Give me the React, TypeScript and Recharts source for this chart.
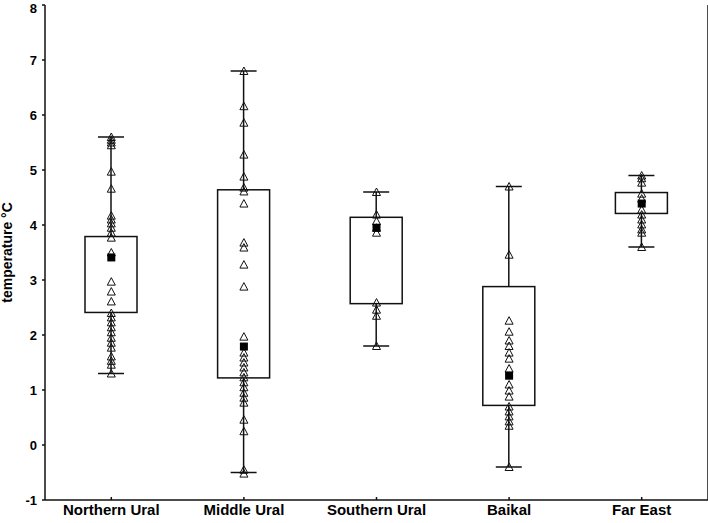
import { Bar, ComposedChart, Scatter, XAxis, YAxis } from "recharts";

const categories = ["Northern Ural", "Middle Ural", "Southern Ural", "Baikal", "Far East"];
const whiskerLow = [1.3, -0.5, 1.8, -0.4, 3.6];
const whiskerHigh = [5.6, 6.8, 4.6, 4.7, 4.9];
const boxLow = [2.41, 1.22, 2.57, 0.72, 4.21];
const boxHigh = [3.79, 4.64, 4.14, 2.88, 4.59];
const centers = [3.41, 1.79, 3.95, 1.26, 4.39];

const northernUral = [5.6, 5.55, 5.5, 5.45, 4.97, 4.66, 4.17, 4.1, 4.03, 3.95, 3.86, 3.77, 3.5, 2.97, 2.79, 2.61, 2.4, 2.32, 2.23, 2.14, 2.05, 1.95, 1.86, 1.77, 1.61, 1.53, 1.46, 1.3];
const middleUral = [6.8, 6.16, 5.86, 5.28, 4.88, 4.68, 4.61, 4.39, 3.68, 3.59, 3.28, 2.88, 1.97, 1.68, 1.59, 1.5, 1.41, 1.32, 1.23, 1.14, 1.05, 0.95, 0.86, 0.77, 0.46, 0.25, -0.45, -0.52];
const southernUral = [4.6, 4.19, 4.07, 3.95, 3.86, 2.59, 2.46, 2.35, 1.8];
const baikal = [4.7, 3.46, 2.26, 2.06, 1.9, 1.8, 1.68, 1.57, 1.39, 1.1, 0.99, 0.88, 0.7, 0.61, 0.52, 0.43, 0.35, -0.4];
const farEast = [4.9, 4.85, 4.77, 4.57, 4.48, 4.28, 4.19, 4.1, 4.01, 3.92, 3.86, 3.6];
const pointsByGroup = [northernUral, middleUral, southernUral, baikal, farEast];

const yTicks = [-1, 0, 1, 2, 3, 4, 5, 6, 7, 8];

const rows = categories.map((name, i) => ({
  name,
  whisker: [whiskerLow[i], whiskerHigh[i]],
  box: [boxLow[i], boxHigh[i]],
}));
const points = categories.flatMap((name, i) => pointsByGroup[i].map((v) => ({ name, v })));
const centerPoints = categories.map((name, i) => ({ name, v: centers[i] }));

const INK = "#111";
const font = { fontFamily: "'Liberation Sans', Arial, sans-serif", fontWeight: 700, fill: "#000" };

// whisker: vertical line from min to max with short caps
const Whisker = (p: any) => {
  const cx = p.x + p.width / 2;
  const top = p.y;
  const bottom = p.y + p.height;
  return (
    <g stroke={INK} strokeWidth={1.5}>
      <line x1={cx} x2={cx} y1={top} y2={bottom} />
      <line x1={cx - 13} x2={cx + 13} y1={top} y2={top} />
      <line x1={cx - 13} x2={cx + 13} y1={bottom} y2={bottom} />
    </g>
  );
};

const Box = (p: any) => (
  <rect x={p.x} y={p.y} width={p.width} height={p.height} fill="#fff" stroke={INK} strokeWidth={1.5} />
);

const Triangle = (p: any) => (
  <polygon
    points={`${p.cx},${p.cy - 4} ${p.cx - 4},${p.cy + 3.5} ${p.cx + 4},${p.cy + 3.5}`}
    fill="none"
    stroke={INK}
    strokeWidth={1}
  />
);

const Square = (p: any) => <rect x={p.cx - 4} y={p.cy - 4} width={8} height={8} fill="#000" />;

export default function App() {
  return (
    <div style={{ position: "absolute", left: 0, top: 0, background: "#fff" }}>
      <ComposedChart width={708} height={523} data={rows} margin={{ top: 5, right: 0, bottom: 0, left: 0 }}>
        <XAxis
          dataKey="name"
          type="category"
          allowDuplicatedCategory={false}
          height={23}
          stroke={INK}
          strokeWidth={1.5}
          tickSize={-3}
          tickMargin={7}
          tick={{ ...font, fontSize: 15 }}
        />
        <XAxis xAxisId="top" dataKey="name" orientation="top" height={0} stroke={INK} strokeWidth={1.5} tick={false} tickSize={3} mirror />
        <XAxis xAxisId="wh" dataKey="name" hide />
        <XAxis xAxisId="bx" dataKey="name" hide />
        <YAxis
          dataKey="v"
          type="number"
          domain={[-1, 8]}
          ticks={yTicks}
          allowDataOverflow
          width={45}
          stroke={INK}
          strokeWidth={1.5}
          tickSize={3}
          tickMargin={5}
          tick={{ ...font, fontSize: 13 }}
          label={{
            value: "temperature °C",
            angle: -90,
            position: "insideLeft",
            offset: 7,
            style: { ...font, fontSize: 14, textAnchor: "middle" },
          }}
        />
        <YAxis yAxisId="r" orientation="right" type="number" domain={[-1, 8]} ticks={yTicks} width={5} stroke={INK} strokeWidth={1.5} tick={false} tickSize={3} mirror />
        <Bar xAxisId="wh" dataKey="whisker" barSize={52} shape={Whisker} isAnimationActive={false} />
        <Bar xAxisId="bx" dataKey="box" barSize={52} shape={Box} isAnimationActive={false} />
        <Scatter data={points} shape={Triangle} isAnimationActive={false} />
        <Scatter data={centerPoints} shape={Square} isAnimationActive={false} />
      </ComposedChart>
    </div>
  );
}
